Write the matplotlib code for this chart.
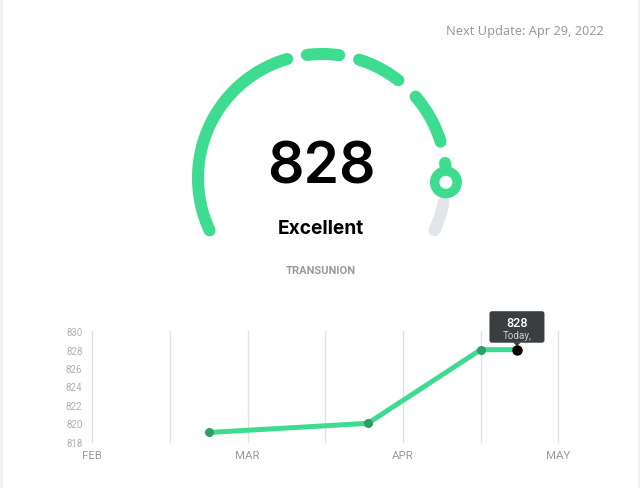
import numpy as np
import matplotlib
matplotlib.use("Agg")
import matplotlib.pyplot as plt
from matplotlib.patches import Circle, Rectangle, FancyBboxPatch, Polygon

# ── Data ──────────────────────────────────────────────
score = 828
rating = "Excellent"
bureau = "TRANSUNION"
next_update = "Next Update: Apr 29, 2022"

month_labels = ["FEB", "MAR", "APR", "MAY"]
month_days = [28, 31, 30, 31]
# history points: (month index, day of month)
hist_month = [0, 1, 2, 2]
hist_day = [22, 25, 16, 23]
hist_score = [819, 820, 828, 828]
y_ticks = [818, 820, 822, 824, 826, 828, 830]

GREEN = "#3ddc91"
DARK_GREEN = "#2e9e66"
GRAY_TXT = "#9a9a9a"

# month position -> fraction of month elapsed
hist_x = [m + (d - 1) / month_days[m] for m, d in zip(hist_month, hist_day)]

W, H = 640, 489
fig = plt.figure(figsize=(W / 100, H / 100), dpi=100)
fig.patch.set_facecolor("white")

# ── Background / gauge layer in pixel coordinates ─────
bg = fig.add_axes([0, 0, 1, 1])
bg.set_xlim(0, W)
bg.set_ylim(H, 0)
bg.axis("off")

bg.add_patch(Rectangle((0, 0), 3, H, color="#f1f1f1", lw=0))
bg.add_patch(Rectangle((637.5, 0), 2.5, H, color="#f1f1f1", lw=0))

cx, cy, R = 322, 179, 124
arc_lw = 12 * 0.72


def arc(a0, a1, color):
    t = np.radians(np.linspace(a0, a1, 120))
    bg.plot(cx + R * np.cos(t), cy - R * np.sin(t), color=color,
            lw=arc_lw, solid_capstyle="round")


knob_angle = -2
for a0, a1 in [(205, 106.3), (97, 82), (72.6, 52), (41, 17), (7, knob_angle)]:
    arc(a0, a1, GREEN)
arc(-11.5, -25, "#e1e5ea")

kx = cx + R * np.cos(np.radians(knob_angle))
ky = cy - R * np.sin(np.radians(knob_angle))
bg.add_patch(Circle((kx, ky), 16, color=GREEN, lw=0, zorder=5))
bg.add_patch(Circle((kx, ky), 6.5, color="white", lw=0, zorder=6))

bg.text(321, 169, str(score), ha="center", va="center", fontsize=41,
        family="Inter", weight="semibold", color="black")
bg.text(321, 229, rating, ha="center", va="center", fontsize=13.8,
        family="Inter", weight="bold", color="black")
bg.text(321, 271.5, bureau, ha="center", va="center", fontsize=8,
        family="Roboto", weight="bold", color=GRAY_TXT)
bg.text(603.5, 31.5, next_update, ha="right", va="center", fontsize=9.2,
        family="Noto Sans", color=GRAY_TXT)

# ── History line chart ────────────────────────────────
ax = fig.add_axes([92.2 / W, 1 - 442.7 / H,
                   (558.4 - 92.2) / W, (442.7 - 332.3) / H])
ax.set_facecolor("none")
ax.set_xlim(0, 3)
ax.set_ylim(818, 830)
for s in ax.spines.values():
    s.set_visible(False)

for gx in np.arange(0, 3.01, 0.5):
    ax.axvline(gx, color="#e2e2e2", lw=1, zorder=0, clip_on=False)

ax.plot(hist_x, hist_score, color=GREEN, lw=3.6, solid_capstyle="round",
        zorder=2)
ax.plot(hist_x[:-1], hist_score[:-1], "o", color=DARK_GREEN, ms=5.5,
        zorder=3)
ax.plot(hist_x[-1], hist_score[-1], "o", color="black", ms=6.5, zorder=4)

ax.set_yticks(y_ticks)
ax.set_yticklabels([str(v) for v in y_ticks])
ax.set_xticks(range(len(month_labels)))
ax.set_xticklabels(month_labels)
ax.tick_params(axis="y", length=0, pad=7, labelsize=7, labelcolor="#b0b0b0")
ax.tick_params(axis="x", length=0, pad=6, labelsize=8.2, labelcolor=GRAY_TXT)
for lab in ax.get_xticklabels() + ax.get_yticklabels():
    lab.set_family("Roboto")

# ── Tooltip on the latest point (drawn in pixel layer) ─
dx, dy = ax.transData.transform((hist_x[-1], hist_score[-1]))
px, py = dx, H - dy
tw, th = 55, 31.5
tip_bottom = py - 7
bg.add_patch(FancyBboxPatch((px - tw / 2, tip_bottom - th), tw, th,
                            boxstyle="round,pad=0,rounding_size=2.5",
                            fc="#3b3e41", ec="none", zorder=8))
bg.add_patch(Polygon([(px - 4, tip_bottom - 0.5), (px + 4, tip_bottom - 0.5),
                      (px, tip_bottom + 3.5)], closed=True,
                     fc="#3b3e41", ec="none", zorder=8))
bg.text(px, tip_bottom - 20.5, str(hist_score[-1]), ha="center",
        va="center", fontsize=9.2, family="Roboto", weight="medium",
        color="white", zorder=9)
bg.text(px, tip_bottom - 8, "Today,", ha="center", va="center",
        fontsize=7, family="Roboto", color="#cfcfcf", zorder=9)

fig.savefig("out.png", dpi=100, facecolor="white")
